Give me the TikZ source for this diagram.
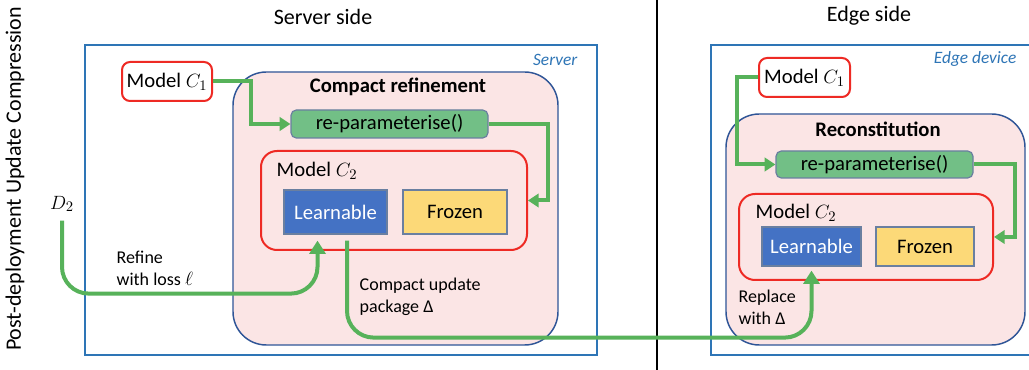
\documentclass[tikz,border=0pt]{standalone}
\usepackage{fontspec}
\setmainfont{Carlito}
\usetikzlibrary{fit,calc,arrows.meta}
\definecolor{sblue}{HTML}{2E75B6}
\definecolor{dblue}{HTML}{2F5597}
\definecolor{pinkf}{HTML}{FBE5E5}
\definecolor{mred}{HTML}{EE2A24}
\definecolor{gline}{HTML}{57B25A}
\definecolor{gfill}{HTML}{72BF86}
\definecolor{lblue}{HTML}{4472C4}
\definecolor{yfill}{HTML}{FCD978}
\definecolor{bord}{HTML}{6A7FA0}
\tikzset{
  fbig/.style={font=\fontsize{15.5}{18}\selectfont},
  ftitle/.style={font=\fontsize{16.5}{19}\selectfont},
  fsmall/.style={font=\fontsize{13.5}{16.5}\selectfont},
  outerbox/.style={draw=sblue, line width=2pt, inner sep=0pt},
  stagebox/.style={draw=dblue, fill=pinkf, line width=1.1pt, rounded corners=25pt, inner sep=0pt},
  modelbox/.style={draw=mred, fill=white, line width=1.5pt, rounded corners=6pt, inner sep=0pt},
  model2box/.style={draw=mred, line width=1.5pt, rounded corners=12pt, inner sep=0pt},
  repbox/.style={draw=bord, fill=gfill, line width=0.9pt, rounded corners=4pt, inner sep=0pt},
  learnbox/.style={draw=bord, fill=lblue, line width=0.9pt, inner sep=0pt},
  frozbox/.style={draw=bord, fill=yfill, line width=0.9pt, inner sep=0pt},
  inlabel/.style={fbig, inner sep=0pt},
  flow/.style={draw=gline, line width=3pt, -{Triangle[length=8pt,width=10pt]}},
  bigflow/.style={draw=gline, line width=3pt, rounded corners=20pt, -{Triangle[length=10pt,width=12pt]}},
  tag/.style={text=sblue, font=\fontsize{13}{15}\selectfont\itshape},
}
\begin{document}
\begin{tikzpicture}[x=0.75pt,y=-0.75pt]
\useasboundingbox[fill=white] (0,0) rectangle (1029,370);
% divider
\coordinate (dtop) at (657,0);
\coordinate (dbot) at (657,370);
\draw[line width=1.6pt] (dtop) -- (dbot);
% titles
\node[ftitle] (tserver) at (323,17) {Server side};
\node[ftitle] (tedge) at (869,16) {Edge side};
\node[ftitle, rotate=90] (tside) at (15,179) {Post-deployment Update Compression};
% ===== Server side =====
\node[outerbox, fit={(85,45)(597,355)}] (server) {};
\node[tag, anchor=east] (servertag) at (582,60) {Server};
\node[stagebox, fit={(233,72)(558,345)}] (crefine) {};
\node[font=\fontsize{15.5}{18}\selectfont\bfseries] (crtitle) at (398,87) {Compact refinement};
\node[modelbox, fit={(122,62)(212,101)}] (c1s) {};
\node[inlabel] (c1stext) at (c1s.center) {Model $C_1$};
\node[repbox, fit={(291,110)(488,138)}] (reps) {};
\node[inlabel] (repstext) at (reps.center) {re-parameterise()};
\node[model2box, fit={(261,151)(527,250)}] (m2s) {};
\node[fbig, anchor=west] (m2stext) at (272,171) {Model $C_2$};
\node[learnbox, fit={(284,190)(387,234)}] (learns) {};
\node[inlabel, text=white] (learnstext) at (learns.center) {Learnable};
\node[frozbox, fit={(403,190)(507,234)}] (frozs) {};
\node[inlabel] (frozstext) at (frozs.center) {Frozen};
\node[fbig] (d2) at (62,204) {$D_2$};
\node[fsmall, anchor=west, align=left] (refine) at (112,268) {Refine\\with loss $\ell$};
\node[fsmall, anchor=west, align=left] (cpack) at (355,297) {Compact update\\package Δ};
% ===== Edge side =====
\node[outerbox, fit={(711,45)(1036,355)}] (edge) {};
\node[tag, anchor=east] (edgetag) at (1021,59) {Edge device};
\node[stagebox, fit={(726,114)(1025,345)}] (recon) {};
\node[font=\fontsize{15.5}{18}\selectfont\bfseries] (rctitle) at (878,129) {Reconstitution};
\node[modelbox, fit={(759,58)(850,97)}] (c1e) {};
\node[inlabel] (c1etext) at (c1e.center) {Model $C_1$};
\node[repbox, fit={(776,151)(973,178)}] (repe) {};
\node[inlabel] (repetext) at (repe.center) {re-parameterise()};
\node[model2box, fit={(739,194)(993,280)}] (m2e) {};
\node[fbig, anchor=west] (m2etext) at (751,213) {Model $C_2$};
\node[learnbox, fit={(762,227)(861,266)}] (learne) {};
\node[inlabel, text=white] (learnetext) at (learne.center) {Learnable};
\node[frozbox, fit={(876,227)(974,266)}] (froze) {};
\node[inlabel] (frozetext) at (froze.center) {Frozen};
\node[fsmall, anchor=west, align=left] (replace) at (734,307) {Replace\\with Δ};
% ===== connectors =====
\draw[flow] (c1s.east) -- ++(38,0) |- (reps.west);
\draw[flow] (reps.east) -- ++(59,0) |- (m2s.east);
\draw[bigflow, shorten <=3pt, shorten >=4.5pt] (d2.south) |- ($(learns.south)+(-18,59)$) -- ($(learns.south)+(-18,0)$);
\draw[bigflow, shorten <=4.5pt, shorten >=3pt] ($(learns.south)+(11.5,0)$) |- ($(learne.south)+(0,71)$) -- (learne.south);
\draw[flow] (c1e.west) -- ++(-21,0) |- (repe.west);
\draw[flow] (repe.east) -- ++(41,0) |- (m2e.east);
\end{tikzpicture}
\end{document}
